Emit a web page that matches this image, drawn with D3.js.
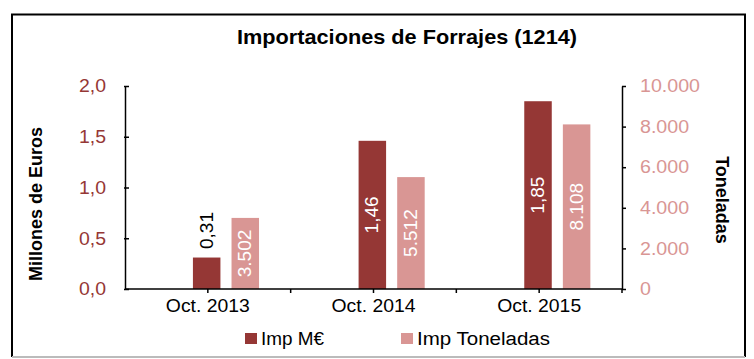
<!DOCTYPE html>
<html>
<head>
<meta charset="utf-8">
<script src="https://cdn.jsdelivr.net/npm/d3@7/dist/d3.min.js"></script>
<style>
  html, body { margin: 0; padding: 0; background: #fff; }
  svg { display: block; font-family: "Liberation Sans", Arial, sans-serif; }
</style>
</head>
<body>
<svg id="chart" width="754" height="359"></svg>
<script>
// Importaciones de forrajes (partida 1214), octubre de cada año
const categories = ["Oct. 2013", "Oct. 2014", "Oct. 2015"];
const impEuros = [0.31, 1.46, 1.85];        // millones de euros
const impToneladas = [3502, 5512, 8108];    // toneladas
const euroTicks = [0, 0.5, 1.0, 1.5, 2.0];
const tonTicks = [0, 2000, 4000, 6000, 8000, 10000];
const seriesNames = ["Imp M€", "Imp Toneladas"];

const colDark = "#953735";
const colLight = "#D99694";

const svg = d3.select("#chart");
const plot = { left: 125, right: 622, top: 86, bottom: 289 };

const esLocale = d3.formatLocale({ decimal: ",", thousands: ".", grouping: [3], currency: ["", "€"] });
const fmtEuro1 = esLocale.format(".1f");
const fmtEuro2 = esLocale.format(".2f");
const fmtTon = esLocale.format(",.0f");

// widen text slightly (glyphs set a little broader than the plain font)
function widen(sel, k) {
  sel.each(function () {
    const n = this.getComputedTextLength();
    d3.select(this).attr("textLength", n * k).attr("lengthAdjust", "spacingAndGlyphs");
  });
}

// frame
svg.append("path")
  .attr("d", `M12,357 V14.5 H745 V357`)
  .attr("fill", "none").attr("stroke", "#000").attr("stroke-width", 2);
svg.append("line")
  .attr("x1", 12).attr("x2", 745).attr("y1", 357).attr("y2", 357)
  .attr("stroke", "#bbb").attr("stroke-width", 2);

// title
svg.append("text")
  .attr("x", 407).attr("y", 44)
  .attr("text-anchor", "middle")
  .attr("font-size", 21).attr("font-weight", "bold")
  .attr("textLength", 340).attr("lengthAdjust", "spacingAndGlyphs")
  .text("Importaciones de Forrajes (1214)");

// scales
const x = d3.scaleBand().domain(categories).range([plot.left, plot.right]).padding(0);
const yL = d3.scaleLinear().domain([0, 2]).range([plot.bottom, plot.top]);
const yR = d3.scaleLinear().domain([0, 10000]).range([plot.bottom, plot.top]);
const bw = x.bandwidth();
const barW = bw * 0.166;
const offDark = bw * 0.41;
const offLight = bw * 0.643;

// bars: euros (left axis)
svg.append("g").selectAll("rect").data(impEuros).join("rect")
  .attr("x", (d, i) => x(categories[i]) + offDark)
  .attr("y", d => yL(d))
  .attr("width", barW)
  .attr("height", d => yL(0) - yL(d))
  .attr("fill", colDark);

// bars: toneladas (right axis)
svg.append("g").selectAll("rect").data(impToneladas).join("rect")
  .attr("x", (d, i) => x(categories[i]) + offLight)
  .attr("y", d => yR(d))
  .attr("width", barW)
  .attr("height", d => yR(0) - yR(d))
  .attr("fill", colLight);

// value labels, rotated; centred in the bar, or above it when the bar is too short
function addLabels(values, scale, off, fmt) {
  values.forEach((v, i) => {
    const cx = x(categories[i]) + off + barW / 2;
    const top = scale(v), base = scale(0);
    const txt = fmt(v);
    const len = txt.length * 9.5;
    const fits = (base - top) > len + 8;
    const cy = fits ? (top + base) / 2 : top - 8 - len / 2;
    const t = svg.append("text")
      .attr("transform", `translate(${cx},${cy}) rotate(-90)`)
      .attr("text-anchor", "middle")
      .attr("dominant-baseline", "central")
      .attr("font-size", 18)
      .attr("fill", fits ? "#fff" : "#000")
      .text(txt);
    widen(t, 1.06);
  });
}
addLabels(impEuros, yL, offDark, fmtEuro2);
addLabels(impToneladas, yR, offLight, fmtTon);

// left axis
const axL = svg.append("g").attr("transform", `translate(${plot.left},0)`)
  .call(d3.axisLeft(yL).tickValues(euroTicks).tickFormat(fmtEuro1).tickSize(0).tickPadding(19));
axL.select(".domain").attr("stroke", "#000").attr("stroke-width", 1.5);
axL.selectAll(".tick text").attr("font-size", 18).attr("fill", colDark)
  .attr("font-family", "Liberation Sans, Arial, sans-serif");
widen(axL.selectAll(".tick text"), 1.08);
axL.selectAll(".tick").append("line").attr("x1", -1).attr("x2", 4).attr("stroke", "#000").attr("stroke-width", 1.5);

// right axis
const axR = svg.append("g").attr("transform", `translate(${plot.right},0)`)
  .call(d3.axisRight(yR).tickValues(tonTicks).tickFormat(fmtTon).tickSize(0).tickPadding(18));
axR.select(".domain").attr("stroke", "#000").attr("stroke-width", 1.5);
axR.selectAll(".tick text").attr("font-size", 18).attr("fill", colLight)
  .attr("font-family", "Liberation Sans, Arial, sans-serif");
widen(axR.selectAll(".tick text"), 1.09);
axR.selectAll(".tick").append("line").attr("x1", 0).attr("x2", 4).attr("stroke", "#000").attr("stroke-width", 1.5);

// bottom axis
const axB = svg.append("g").attr("transform", `translate(0,${plot.bottom})`)
  .call(d3.axisBottom(x).tickSize(4).tickPadding(6));
axB.select(".domain").attr("stroke", "#000").attr("stroke-width", 1.5).attr("d", `M${plot.left},0H${plot.right}`);
axB.selectAll(".tick line").attr("stroke", "#000").attr("stroke-width", 1.5);
axB.selectAll(".tick text").attr("font-size", 18).attr("fill", "#000")
  .attr("font-family", "Liberation Sans, Arial, sans-serif")
  .attr("textLength", 84).attr("lengthAdjust", "spacingAndGlyphs");
// category boundary ticks
axB.selectAll(".bound").data(categories.slice(1).concat(["end"])).join("line")
  .attr("class", "bound")
  .attr("x1", d => d === "end" ? plot.right : x(d))
  .attr("x2", d => d === "end" ? plot.right : x(d))
  .attr("y1", 0).attr("y2", 4)
  .attr("stroke", "#000").attr("stroke-width", 1.5);

// axis titles
svg.append("text")
  .attr("transform", `translate(36,204) rotate(-90)`)
  .attr("text-anchor", "middle").attr("dominant-baseline", "central")
  .attr("font-size", 18).attr("font-weight", "bold")
  .text("Millones de Euros");
svg.append("text")
  .attr("transform", `translate(722,200) rotate(90)`)
  .attr("text-anchor", "middle").attr("dominant-baseline", "central")
  .attr("font-size", 18).attr("font-weight", "bold")
  .text("Toneladas");

// legend
const legend = svg.append("g");
const legX = [245, 401];
const legLen = [63, 133];
seriesNames.forEach((name, i) => {
  legend.append("rect")
    .attr("x", legX[i]).attr("y", 333).attr("width", 12).attr("height", 11)
    .attr("fill", i === 0 ? colDark : colLight);
  legend.append("text")
    .attr("x", legX[i] + 16).attr("y", 345)
    .attr("font-size", 18)
    .attr("textLength", legLen[i]).attr("lengthAdjust", "spacingAndGlyphs")
    .text(name);
});
</script>
</body>
</html>
